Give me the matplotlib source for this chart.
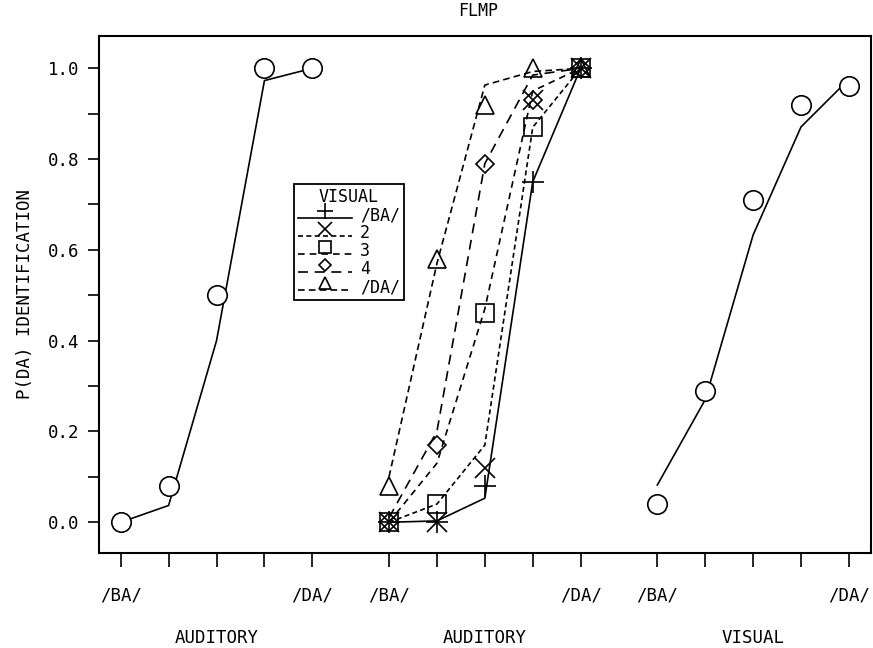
import numpy as np
import matplotlib
matplotlib.use("Agg")
import matplotlib.pyplot as plt
from matplotlib.lines import Line2D
from matplotlib.legend_handler import HandlerLine2DCompound

plt.rcParams['font.family'] = ['DejaVu Sans Mono']

# x positions of the three panels (5 levels each, gap between groups)
x_left = [1, 2, 3, 4, 5]
x_mid = [6.6, 7.6, 8.6, 9.6, 10.6]
x_right = [12.2, 13.2, 14.2, 15.2, 16.2]
tick_labels = ['/BA/', '', '', '', '/DA/']
group_labels = ['AUDITORY', 'AUDITORY', 'VISUAL']

# auditory alone: observed (circles) and FLMP prediction (line)
aud_obs = [0.0, 0.08, 0.50, 1.0, 1.0]
aud_pred = [0.0, 0.037, 0.40, 0.973, 1.0]

# bimodal: observed per visual level
vis_names = ['/BA/', '2', '3', '4', '/DA/']
bi_obs = {
    '/BA/': [0.0, 0.0, 0.08, 0.75, 1.0],
    '2':    [0.0, 0.0, 0.12, 0.93, 1.0],
    '3':    [0.0, 0.04, 0.46, 0.87, 1.0],
    '4':    [0.0, 0.17, 0.79, 0.93, 1.0],
    '/DA/': [0.08, 0.58, 0.92, 1.0, 1.0],
}
bi_pred = {
    '/BA/': [0.0, 0.003, 0.053, 0.75, 1.0],
    '2':    [0.0, 0.04, 0.17, 0.87, 1.0],
    '3':    [0.0, 0.13, 0.47, 0.95, 1.0],
    '4':    [0.01, 0.20, 0.79, 0.985, 1.0],
    '/DA/': [0.10, 0.57, 0.963, 0.993, 1.0],
}
markers = {'/BA/': '+', '2': 'x', '3': 's', '4': 'D', '/DA/': '^'}
msizes = {'/BA/': 16, '2': 14, '3': 13, '4': 9, '/DA/': 13}
lstyles = {'/BA/': '-', '2': (0, (3, 2)), '3': (0, (4, 3)),
           '4': (0, (6, 4)), '/DA/': (0, (4, 2.5))}

# visual alone
vis_obs = [0.04, 0.29, 0.71, 0.92, 0.96]
vis_pred = [0.082, 0.27, 0.633, 0.871, 0.976]


class MarkAbove(HandlerLine2DCompound):
    def create_artists(self, legend, orig_handle, xdescent, ydescent,
                       width, height, fontsize, trans):
        line, mark = super().create_artists(legend, orig_handle, xdescent, ydescent,
                                            width, height, fontsize, trans)
        line.set_ydata(np.asarray(line.get_ydata()) - height * 0.35)
        mark.set_ydata(np.asarray(mark.get_ydata()) + height * 0.25)
        return [line, mark]


fig = plt.figure(figsize=(8.73, 6.48), dpi=100)
ax = fig.add_axes([0.1134, 0.1471, 0.8843, 0.7978])

lw = 1.2
ax.plot(x_left, aud_pred, color='black', lw=lw)
ax.plot(x_left, aud_obs, ls='none', marker='o', ms=14, mfc='white',
        mec='black', mew=1.2)

handles = []
for v in vis_names:
    ax.plot(x_mid, bi_pred[v], color='black', lw=lw, ls=lstyles[v])
    ax.plot(x_mid, bi_obs[v], ls='none', marker=markers[v], ms=msizes[v],
            mfc='none', mec='black', mew=1.2)
    handles.append(Line2D([], [], color='black', lw=lw, ls=lstyles[v],
                          marker=markers[v], ms=msizes[v], mfc='none',
                          mec='black', mew=1.2, label=v))

ax.plot(x_right, vis_pred, color='black', lw=lw)
ax.plot(x_right, vis_obs, ls='none', marker='o', ms=14, mfc='white',
        mec='black', mew=1.2)

ax.set_xlim(0.547, 16.66)
ax.set_ylim(-0.067, 1.0718)

ax.set_xticks(x_left + x_mid + x_right)
ax.set_xticklabels(tick_labels * 3)
ax.set_yticks(np.arange(0, 1.01, 0.2))
ax.set_yticklabels(['%.1f' % t for t in np.arange(0, 1.01, 0.2)])
ax.set_yticks(np.arange(0.1, 1.0, 0.2), minor=True)
ax.tick_params(axis='x', direction='out', length=10, width=1.2, pad=14,
               labelsize=12.5)
ax.tick_params(axis='y', which='both', direction='out', length=8, width=1.2,
               pad=6, labelsize=12.5)
for s in ax.spines.values():
    s.set_linewidth(1.5)

for xs, lab in zip([x_left, x_mid, x_right], group_labels):
    ax.text(xs[2], -0.166, lab, transform=ax.get_xaxis_transform(),
            ha='center', va='center', fontsize=12.5)

ax.set_ylabel('P(DA) IDENTIFICATION', fontsize=12.5, labelpad=10)
ax.set_title('FLMP', fontsize=12, pad=14, x=0.491)

leg = ax.legend(handles=handles, title='VISUAL', loc='upper left',
                bbox_to_anchor=(0.2526, 0.713), fontsize=12,
                title_fontsize=12, frameon=True, fancybox=False,
                edgecolor='black', framealpha=1, labelspacing=0.0,
                handlelength=3.2, handletextpad=0.5, borderpad=0.25,
                borderaxespad=0, markerscale=0.7,
                handler_map={Line2D: MarkAbove()})
leg.get_frame().set_linewidth(1.3)

fig.savefig('out.png', dpi=100)
